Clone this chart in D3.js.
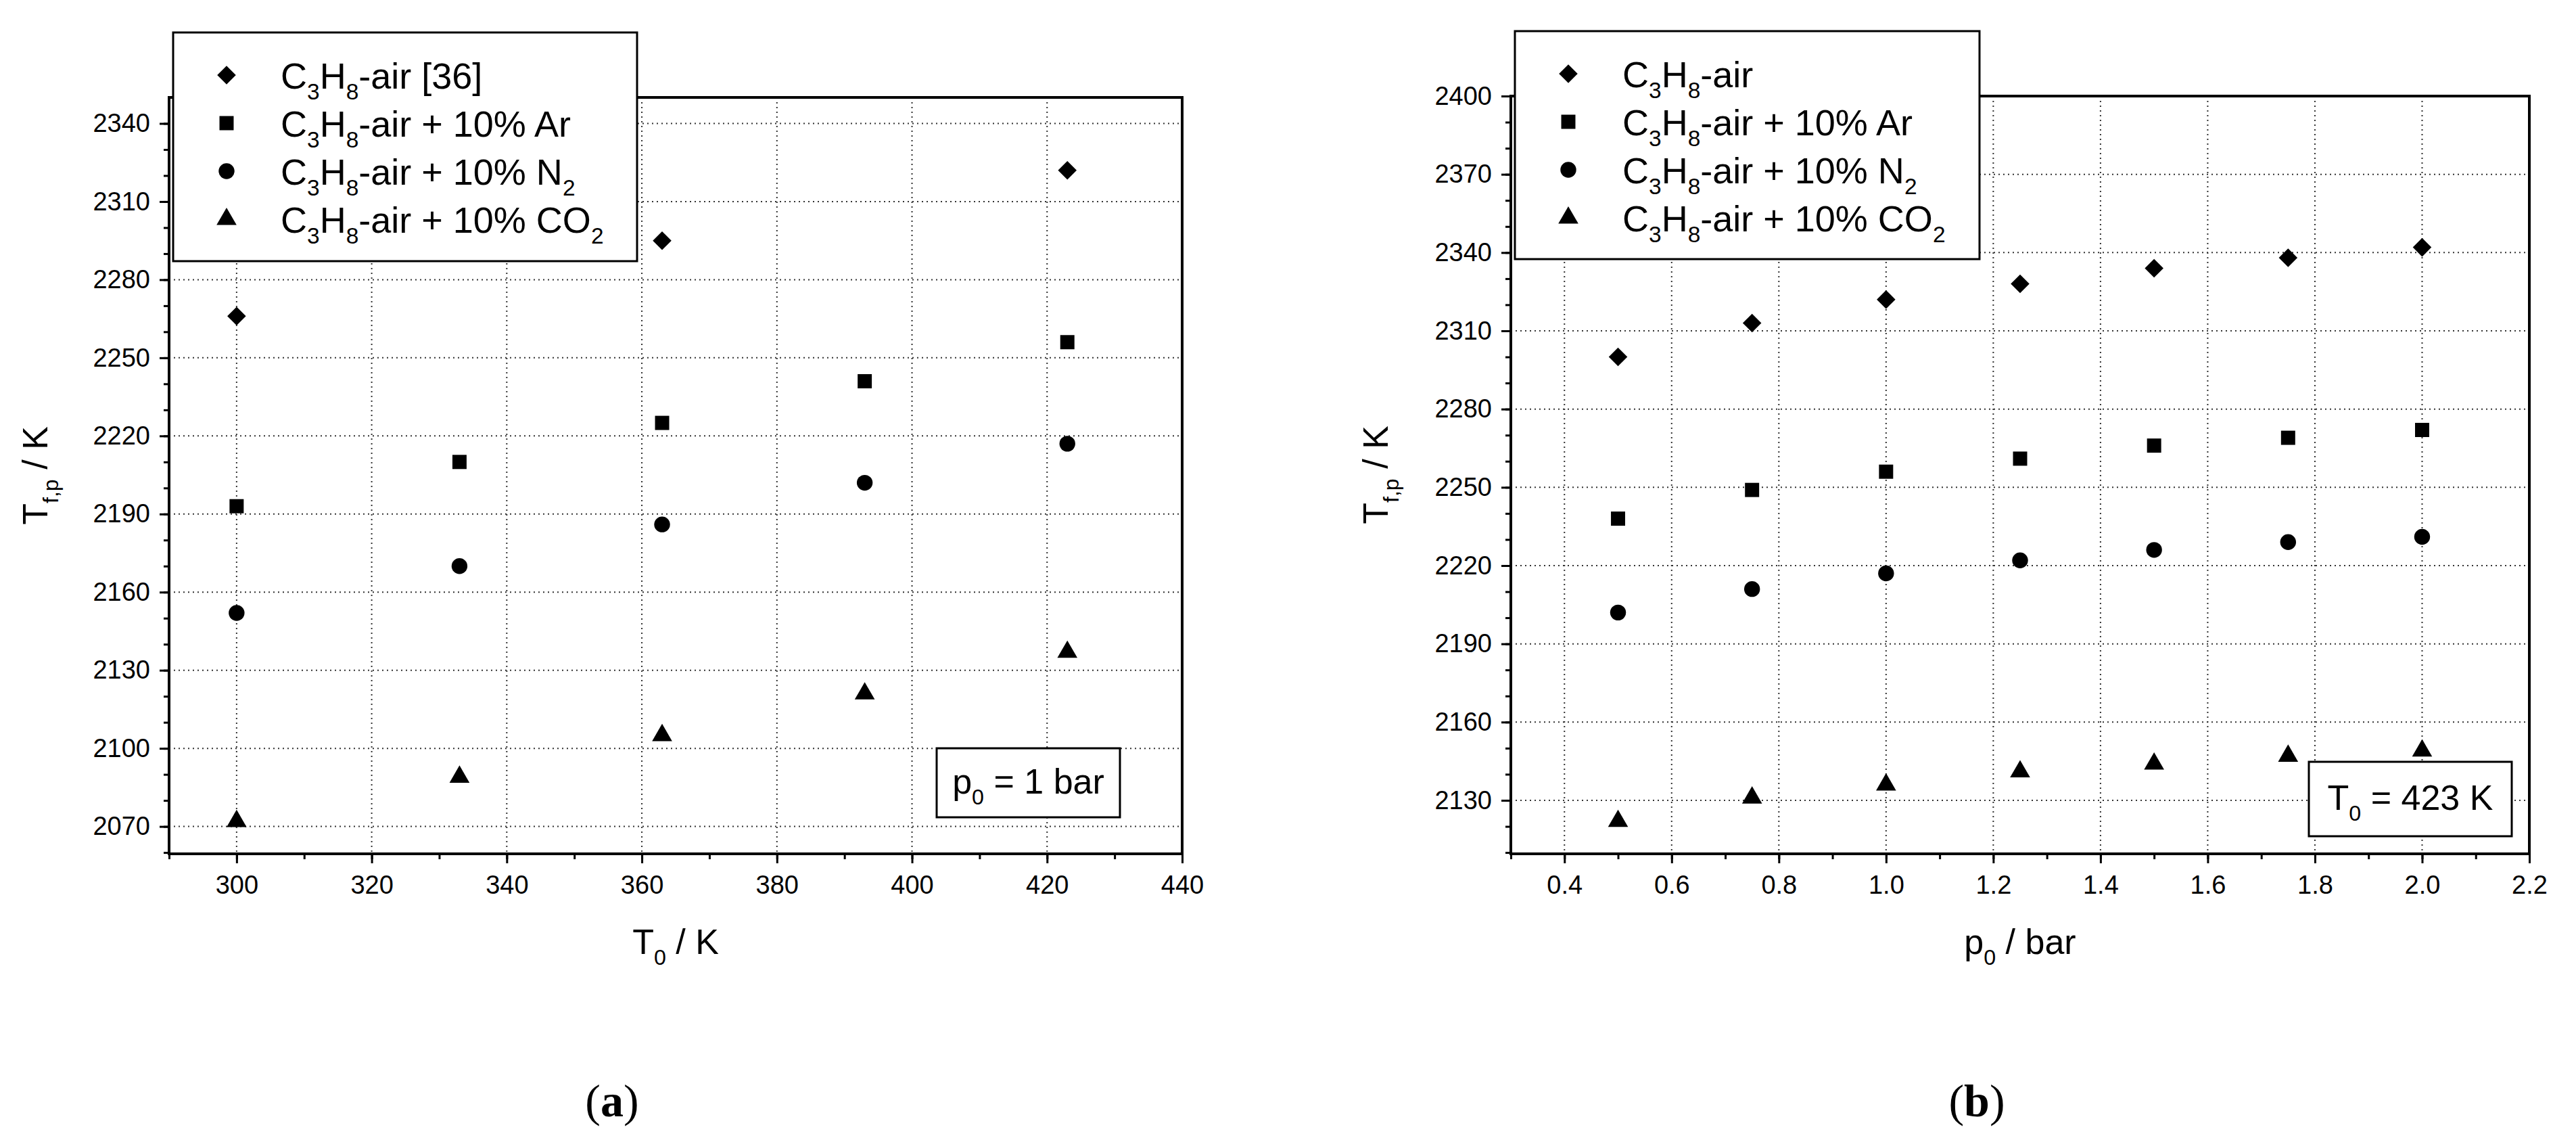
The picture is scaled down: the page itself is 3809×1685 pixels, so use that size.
<!DOCTYPE html>
<html><head><meta charset="utf-8">
<script src="https://cdn.jsdelivr.net/npm/d3@7"></script>
<style>body{margin:0;background:#fff}svg text{font-family:"Liberation Sans Narrow","Liberation Sans",Arial,sans-serif}</style>
</head><body><svg id="c" width="3809" height="1685"></svg>
<script>
const xA = [300,333,363,393,423];
const diamondA = [[300,2266],[363,2295],[423,2322]];
const squareA = [2193,2210,2225,2241,2256];
const circleA = [2152,2170,2186,2202,2217];
const triA = [2072,2089,2105,2121,2137];
const xB = [0.5,0.75,1.0,1.25,1.5,1.75,2.0];
const diamondB = [2300,2313,2322,2328,2334,2338,2342];
const squareB = [2238,2249,2256,2261,2266,2269,2272];
const circleB = [2202,2211,2217,2222,2226,2229,2231];
const triB = [2122,2131,2136,2141,2144,2147,2149];
const yTicksA = [2070,2100,2130,2160,2190,2220,2250,2280,2310,2340];
const yTicksB = [2130,2160,2190,2220,2250,2280,2310,2340,2370,2400];
const xTicksA = [300,320,340,360,380,400,420,440];
const xTicksB = [0.4,0.6,0.8,1.0,1.2,1.4,1.6,1.8,2.0,2.2];

const svg = d3.select("#c");
const shapes = {diamond:d3.symbolSquare, square:d3.symbolSquare, circle:d3.symbolCircle, tri:d3.symbolTriangle};
const sizes = {diamond:380, square:440, circle:430, tri:380};
const rot = k => k==="diamond" ? " rotate(45)" : "";

function rich(sel, parts, size){
  parts.forEach(p=>{
    if(p[1]) sel.append("tspan").attr("font-size",size*0.62).attr("dy",size*0.3).text(p[0]);
    else sel.append("tspan").attr("font-size",size).attr("dy",p[2]||0).text(p[0]);
  });
}

function panel(o){
  const g = svg.append("g");
  const x = d3.scaleLinear().domain(o.xd).range([o.L,o.R]);
  const y = d3.scaleLinear().domain(o.yd).range([o.B,o.T]);
  g.selectAll(".gx").data(o.xt.filter(v=>v>o.xd[0]&&v<o.xd[1])).join("line")
    .attr("x1",d=>x(d)).attr("x2",d=>x(d)).attr("y1",o.T).attr("y2",o.B)
    .attr("stroke","#333").attr("stroke-width",2).attr("stroke-dasharray","2,5");
  g.selectAll(".gy").data(o.yt.filter(v=>v<o.yd[1])).join("line")
    .attr("y1",d=>y(d)).attr("y2",d=>y(d)).attr("x1",o.L).attr("x2",o.R)
    .attr("stroke","#333").attr("stroke-width",2).attr("stroke-dasharray","2,5");
  const ax = g.append("g").attr("transform",`translate(0,${o.B})`)
    .call(d3.axisBottom(x).tickValues(o.xt).tickSize(14).tickPadding(18).tickFormat(o.xf));
  const axm = g.append("g").attr("transform",`translate(0,${o.B})`)
    .call(d3.axisBottom(x).tickValues(o.xm).tickSize(8).tickFormat(""));
  const ay = g.append("g").attr("transform",`translate(${o.L},0)`)
    .call(d3.axisLeft(y).tickValues(o.yt).tickSize(14).tickPadding(14).tickFormat(d3.format("d")));
  const aym = g.append("g").attr("transform",`translate(${o.L},0)`)
    .call(d3.axisLeft(y).tickValues(o.ym).tickSize(8).tickFormat(""));
  [ax,axm,ay,aym].forEach(a=>{a.select(".domain").remove();a.selectAll("line").attr("stroke","#000").attr("stroke-width",3);
    a.selectAll("text").attr("font-size",38).attr("fill","#000");});
  g.append("rect").attr("x",o.L).attr("y",o.T).attr("width",o.R-o.L).attr("height",o.B-o.T)
    .attr("fill","none").attr("stroke","#000").attr("stroke-width",4);
  o.series.forEach(s=>{
    g.selectAll(null).data(s.pts).join("path")
      .attr("transform",d=>`translate(${x(d[0])},${y(d[1])})`+rot(s.k))
      .attr("d",d3.symbol().type(shapes[s.k]).size(sizes[s.k])).attr("fill","#000");
  });
  const lg = g.append("g");
  lg.append("rect").attr("x",o.lg[0]).attr("y",o.lg[1]).attr("width",o.lg[2]).attr("height",o.lg[3])
    .attr("fill","#fff").attr("stroke","#000").attr("stroke-width",3);
  o.series.forEach((s,i)=>{
    const yy = o.lg[1]+63+i*71;
    lg.append("path").attr("transform",`translate(${o.lg[0]+79},${yy})`+rot(s.k))
      .attr("d",d3.symbol().type(shapes[s.k]).size(sizes[s.k])).attr("fill","#000");
    const t = lg.append("text").attr("x",o.lg[0]+159).attr("y",yy+20).attr("fill","#000");
    rich(t, s.label, 54);
  });
  g.append("rect").attr("x",o.an[0]).attr("y",o.an[1]).attr("width",o.an[2]).attr("height",o.an[3])
    .attr("fill","#fff").attr("stroke","#000").attr("stroke-width",3);
  const at = g.append("text").attr("x",o.an[0]+o.an[2]/2).attr("y",o.an[1]+o.an[3]/2+16).attr("text-anchor","middle");
  rich(at,o.anText,52);
  const xt = g.append("text").attr("x",(o.L+o.R)/2).attr("y",1410).attr("text-anchor","middle");
  rich(xt,o.xl,52);
  const yt = g.append("text").attr("transform",`translate(${o.ylx},${(o.T+o.B)/2}) rotate(-90)`).attr("text-anchor","middle");
  rich(yt,[["T"],["f,p",1],[" / K",0,-52*0.3]],52);
  svg.append("text").attr("x",o.cap).attr("y",1650).attr("text-anchor","middle")
    .style("font-family","'Liberation Serif','Times New Roman',serif").attr("font-size",68)
    .html('(<tspan font-weight="bold">'+o.capL+'</tspan>)');
}
const lab = (extra,last)=>{const a=[["C"],["3",1],["H",0,-54*0.3],["8",1],["-air"+extra,0,-54*0.3]]; if(last) a.push([last,1]); return a;};
const seriesA = [
  {k:"diamond",pts:diamondA,label:lab(" [36]")},
  {k:"square",pts:xA.map((v,i)=>[v,squareA[i]]),label:lab(" + 10% Ar")},
  {k:"circle",pts:xA.map((v,i)=>[v,circleA[i]]),label:lab(" + 10% N","2")},
  {k:"tri",pts:xA.map((v,i)=>[v,triA[i]]),label:lab(" + 10% CO","2")}];
const seriesB = [
  {k:"diamond",pts:xB.map((v,i)=>[v,diamondB[i]]),label:lab("")},
  {k:"square",pts:xB.map((v,i)=>[v,squareB[i]]),label:lab(" + 10% Ar")},
  {k:"circle",pts:xB.map((v,i)=>[v,circleB[i]]),label:lab(" + 10% N","2")},
  {k:"tri",pts:xB.map((v,i)=>[v,triB[i]]),label:lab(" + 10% CO","2")}];
panel({L:250,R:1748,T:144,B:1262,xd:[290,440],yd:[2059.5,2350],xt:xTicksA,xf:d3.format("d"),
  xm:d3.range(290,441,10),ym:d3.range(2060,2350,10),yt:yTicksA,series:seriesA,
  lg:[256,48,686,338],an:[1385,1106,271,102],anText:[["p"],["0",1],[" = 1 bar",0,-52*0.3]],
  xl:[["T"],["0",1],[" / K",0,-52*0.3]],ylx:70,cap:905,capL:"a"});
panel({L:2234,R:3740,T:142,B:1262,xd:[0.3,2.2],yd:[2109.5,2400],xt:xTicksB,xf:d3.format(".1f"),
  xm:d3.range(3,23).map(v=>v/10),ym:d3.range(2110,2401,10),yt:yTicksB,series:seriesB,
  lg:[2240,46,687,337],an:[3414,1126,300,110],anText:[["T"],["0",1],[" = 423 K",0,-52*0.3]],
  xl:[["p"],["0",1],[" / bar",0,-52*0.3]],ylx:2052,cap:2923,capL:"b"});
</script></body></html>
